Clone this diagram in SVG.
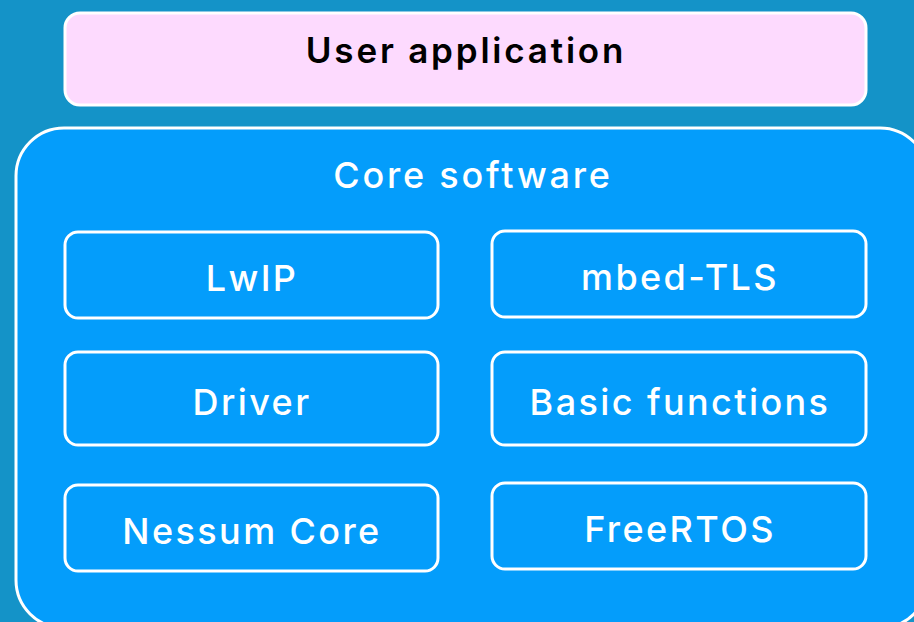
<svg xmlns="http://www.w3.org/2000/svg" width="914" height="622" viewBox="0 0 914 622">
<style>
.box{fill:#049DFB;stroke:#fff;stroke-width:3}
.lbl{font-family:Inter,"Noto Sans",sans-serif;font-size:36px;font-weight:500;letter-spacing:2.4px;fill:#fff;text-anchor:middle}
</style>
<rect x="0" y="0" width="914" height="622" fill="#1493C8"/>
<g id="user-app">
<rect x="65" y="13" width="801" height="92" rx="15" fill="#FDDAFE" stroke="#fff" stroke-width="3"/>
<text x="466" y="63" font-family="Inter, Noto Sans, sans-serif" font-size="35" font-weight="600" letter-spacing="2.8" fill="#000" text-anchor="middle">User application</text>
</g>
<g id="core">
<rect x="16" y="128" width="912" height="500" rx="48" class="box"/>
<text x="473" y="188" class="lbl" font-size="34" style="letter-spacing:2.8px">Core software</text>
</g>
<g id="lwip"><rect x="65" y="232" width="373" height="86" rx="13" class="box"/><text x="252" y="291" class="lbl">LwIP</text></g>
<g id="mbedtls"><rect x="492" y="231" width="374" height="86" rx="13" class="box"/><text x="680" y="290" class="lbl">mbed-TLS</text></g>
<g id="driver"><rect x="65" y="352" width="373" height="93" rx="13" class="box"/><text x="252" y="415" class="lbl">Driver</text></g>
<g id="basic"><rect x="492" y="352" width="374" height="93" rx="13" class="box"/><text x="680" y="415" class="lbl">Basic functions</text></g>
<g id="nessum"><rect x="65" y="485" width="373" height="86" rx="13" class="box"/><text x="252" y="544" class="lbl">Nessum Core</text></g>
<g id="freertos"><rect x="492" y="483" width="374" height="86" rx="13" class="box"/><text x="680" y="542" class="lbl">FreeRTOS</text></g>
<g id="connectors"/>
</svg>
